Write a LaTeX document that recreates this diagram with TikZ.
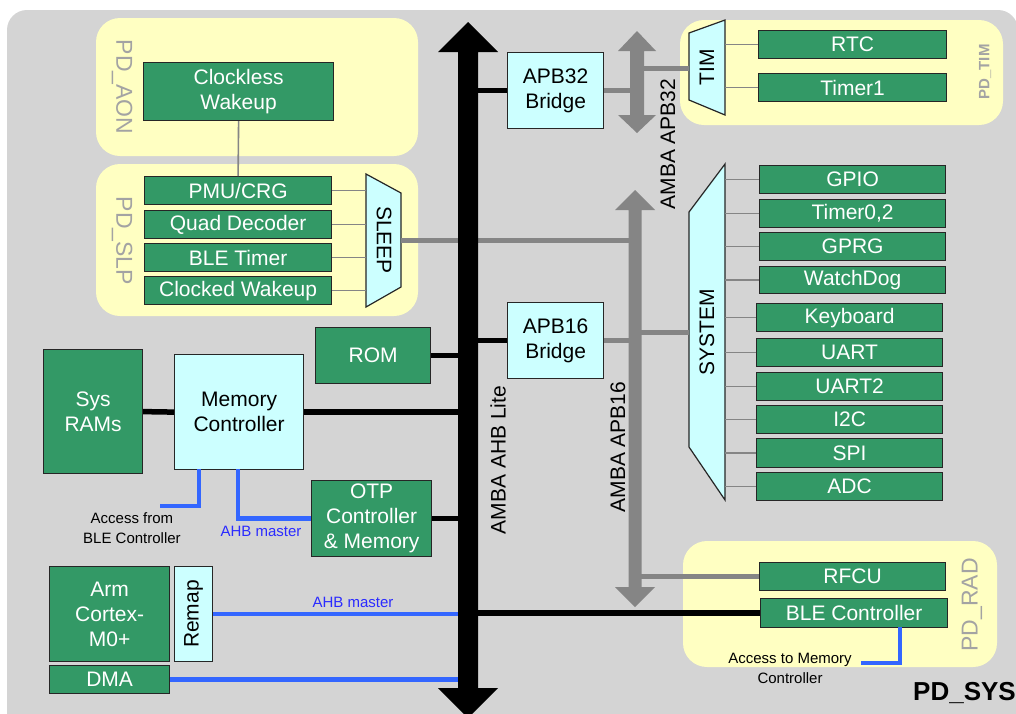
\documentclass[tikz,border=0pt]{standalone}
\usepackage{fontspec}
\setmainfont{Liberation Sans}
\definecolor{bgray}{HTML}{D4D4D4}
\definecolor{pdyel}{HTML}{FFFFC2}
\definecolor{grn}{HTML}{339966}
\definecolor{cyn}{HTML}{CCFFFF}
\definecolor{busgray}{HTML}{858585}
\definecolor{lblue}{HTML}{3366FF}
\definecolor{tblue}{HTML}{2B2BFF}
\definecolor{pdtxt}{HTML}{A3A3A3}
\newcommand\fbig{\fontsize{21}{25}\selectfont}
\newcommand\fsmall{\fontsize{15}{20}\selectfont}
\newcommand\fpd{\fontsize{23}{26}\selectfont}
\newcommand\blk[7]{\node[#1, minimum width={(#5)-(#3)}, minimum height={(#6)-(#4)}] (#2) at (#3,#4) {#7};}
\tikzset{
  base/.style={draw=black!85, line width=1.2pt, inner sep=0pt, anchor=north west, align=center, font=\fbig},
  gbox/.style={base, fill=grn, text=white},
  cbox/.style={base, fill=cyn, text=black},
  pdarea/.style={fill=pdyel, rounded corners=24pt},
  pdlabel/.style={text=pdtxt, font=\fpd},
  trap/.style={draw=black!85, line width=1.2pt, fill=cyn},
  blackline/.style={draw=black, line width=5.5pt},
  blueline/.style={draw=lblue, line width=4.5pt},
  grayline/.style={draw=busgray, line width=5pt},
  thinline/.style={draw=busgray, line width=1.6pt},
  buslabel/.style={font=\fbig, rotate=90},
  note/.style={font=\fsmall, align=center},
}
\begin{document}
\begin{tikzpicture}[x=1pt, y=-1pt]
\useasboundingbox (0,0) rectangle (1016,713);
% background
\fill[white] (0,0) rectangle (1016,713);
\fill[bgray, rounded corners=20pt] (7,10) rectangle (1018,735);
% power domains
\fill[pdarea] (96,18) rectangle (418,156);
\fill[pdarea] (96,164) rectangle (418,316);
\fill[pdarea] (680,20) rectangle (1003,125);
\fill[pdarea] (683,541) rectangle (997,667);
\node[pdlabel, rotate=-90] (pdaon) at (122,87) {PD\_AON};
\node[pdlabel, rotate=-90] (pdslp) at (122,241) {PD\_SLP};
\node[text=pdtxt, font=\fontsize{15}{18}\selectfont\bfseries, rotate=90] (pdtim) at (985,72) {PD\_TIM};
\node[pdlabel, rotate=90] (pdrad) at (972,605) {PD\_RAD};
\node[font=\fontsize{26}{30}\selectfont\bfseries, anchor=west, inner sep=0pt] (pdsys) at (913,693) {PD\_SYS};

% named coordinates of buses
\coordinate (ahb) at (468,0);
\coordinate (apb32) at (637,0);
\coordinate (apb16) at (635,0);
\coordinate (sleepL) at (366,0);
\coordinate (sleepR) at (401,0);
\coordinate (timL) at (689,0);
\coordinate (timR) at (725,0);
\coordinate (sysL) at (689,0);
\coordinate (sysR) at (725,0);

% boxes
\blk{gbox}{clockless}{143}{62}{333}{120}{Clockless\\Wakeup}
\blk{gbox}{pmu}{144}{176}{331}{204}{PMU/CRG}
\blk{gbox}{quad}{144}{210}{331}{238}{Quad Decoder}
\blk{gbox}{bletimer}{144}{243}{331}{271}{BLE Timer}
\blk{gbox}{clocked}{144}{276}{331}{304}{Clocked Wakeup}

\blk{cbox}{apbb32}{507}{52}{603}{128}{APB32\\Bridge}
\blk{cbox}{apbb16}{507}{302}{603}{378}{APB16\\Bridge}

\blk{gbox}{rtc}{758}{30}{946}{58}{RTC}
\blk{gbox}{timer1}{758}{73}{946}{101}{Timer1}

\blk{gbox}{gpio}{759}{165}{945}{193}{GPIO}
\blk{gbox}{timer02}{759}{199}{945}{227}{Timer0,2}
\blk{gbox}{gprg}{759}{232}{945}{260}{GPRG}
\blk{gbox}{wdog}{759}{266}{945}{293}{WatchDog}
\blk{gbox}{keyb}{756}{303}{942}{331}{Keyboard}
\blk{gbox}{uart}{756}{338}{942}{366}{UART}
\blk{gbox}{uart2}{756}{372}{942}{400}{UART2}
\blk{gbox}{iic}{756}{405}{942}{433}{I2C}
\blk{gbox}{spi}{756}{438}{942}{467}{SPI}
\blk{gbox}{adc}{756}{472}{942}{500}{ADC}

\blk{gbox}{rfcu}{759}{562}{945}{590}{RFCU}
\blk{gbox}{blec}{760}{598}{947}{627}{BLE Controller}

\blk{gbox}{rom}{315}{327}{430}{383}{ROM}
\blk{gbox}{sysram}{43}{349}{142}{473}{Sys\\RAMs}
\blk{cbox}{memctrl}{174}{354}{303}{469}{Memory\\Controller}
\blk{gbox}{otp}{311}{480}{431}{556}{OTP\\Controller\\\& Memory}
\blk{gbox}{arm}{49}{566}{169}{661}{Arm\\Cortex-\\M0+}
\node[cbox, minimum width=38, minimum height=95] (remap) at (174,566) {};
\node[rotate=90, font=\fbig] (remaptxt) at (remap.center) {Remap};
\blk{gbox}{dma}{49}{665}{169}{693}{DMA}

% trapezoids
\filldraw[trap] (366,174) -- (401,193) -- (401,287) -- (366,307) -- cycle;
\node[rotate=-90, font=\fbig] (sleep) at (384,240) {SLEEP};
\filldraw[trap] (689,33) -- (725,20) -- (725,115) -- (689,100) -- cycle;
\node[rotate=90, font=\fbig] (tim) at (707,67) {TIM};
\filldraw[trap] (689,212) -- (725,164) -- (725,500) -- (689,447) -- cycle;
\node[rotate=90, font=\fbig] (system) at (707,332) {SYSTEM};

% thin connectors
\draw[thinline] (clockless.south) -- (pmu.north);
\foreach \n in {pmu,quad,bletimer,clocked} \draw[thinline] (\n.east) -- (\n.east -| sleepL);
\foreach \n in {rtc,timer1} \draw[thinline] (\n.west) -- (\n.west -| timR);
\foreach \n in {gpio,timer02,gprg,wdog,keyb,uart,uart2,iic,spi,adc} \draw[thinline] (\n.west) -- (\n.west -| sysR);

% gray bus connectors
\coordinate (sleepout) at (401,240);
\draw[grayline] (sleepout) -- (sleepout -| apb16);
\draw[grayline] (apbb32.east) -- (apbb32.east -| apb32);
\coordinate (timin) at (689,68);
\draw[grayline] (timin -| apb32) -- (timin);
\draw[grayline] (apbb16.east) -- (apbb16.east -| apb16);
\coordinate (sysin) at (689,332);
\draw[grayline] (sysin -| apb16) -- (sysin);
\draw[grayline] (rfcu.west -| apb16) -- (rfcu.west);

% APB buses (shapes)
\fill[busgray] (630,51) -- (618,51) -- (637,31) -- (656,51) -- (644,51) -- (644,115) -- (656,115) -- (637,133) -- (618,115) -- (630,115) -- cycle;
\fill[busgray] (628.5,210) -- (615,210) -- (635,190) -- (655,210) -- (641.5,210) -- (641.5,587) -- (655,587) -- (635,607) -- (615,587) -- (628.5,587) -- cycle;

% black connectors
\draw[blackline] (apbb32.west) -- (apbb32.west -| ahb);
\draw[blackline] (apbb16.west) -- (apbb16.west -| ahb);
\draw[blackline] (rom.east) -- (rom.east -| ahb);
\draw[blackline] (sysram.east) -- (memctrl.west);
\draw[blackline] (memctrl.east) -- (memctrl.east -| ahb);
\draw[blackline] (otp.east) -- (otp.east -| ahb);
\draw[blackline] (blec.west) -- (blec.west -| ahb);

% blue connectors
\draw[blueline] (remap.east) -- (remap.east -| ahb);
\draw[blueline] (dma.east) -- (dma.east -| ahb);
\coordinate (accfrom) at (160,506);
\draw[blueline] (199,469) |- (accfrom);
\draw[blueline] (238,469) |- (otp.west);
\coordinate (accto) at (861,663);
\draw[blueline] (900,627) |- (accto);

% AHB bus
\fill[black] (458,52) -- (438,52) -- (468,22) -- (498,52) -- (478,52) -- (478,688) -- (498,688) -- (468,718) -- (438,688) -- (458,688) -- cycle;

% labels
\node[buslabel] (ahblbl) at (498,460) {AMBA AHB Lite};
\node[buslabel] (apb32lbl) at (668,144) {AMBA APB32};
\node[buslabel] (apb16lbl) at (618,447) {AMBA APB16};
\node[note] (accfromtxt) at (132,528) {Access from\\BLE Controller};
\node[note, text=tblue] (ahbm1) at (261,531) {AHB master};
\node[note, text=tblue] (ahbm2) at (353,602) {AHB master};
\node[note] (acctotxt) at (790,668) {Access to Memory\\Controller};
\end{tikzpicture}
\end{document}
